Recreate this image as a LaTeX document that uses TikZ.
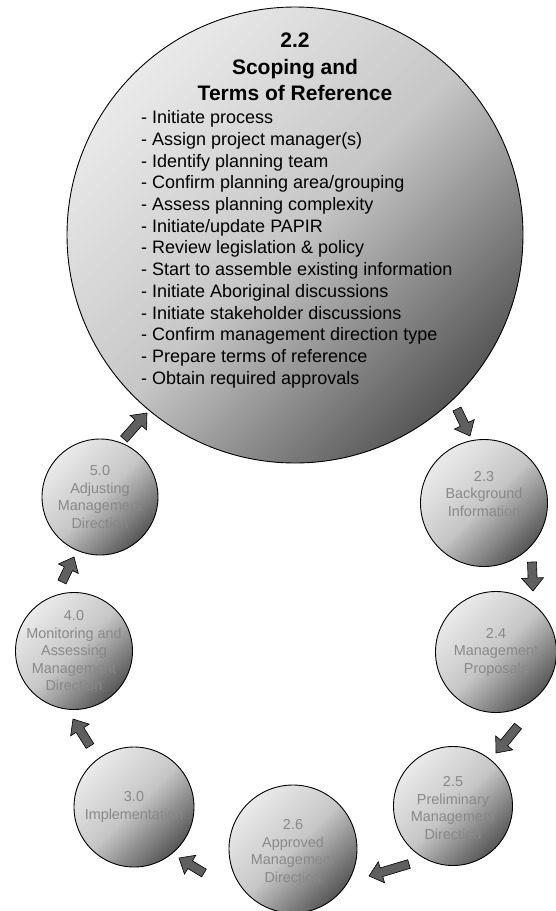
\documentclass[tikz,border=0pt]{standalone}
\usepackage{fontspec}
\setmainfont{Liberation Sans}
\usetikzlibrary{calc}
\definecolor{arrfill}{RGB}{95,95,95}
\definecolor{txtgray}{RGB}{136,136,136}
\definecolor{shlight}{RGB}{234,234,234}
\definecolor{shmid}{RGB}{198,198,198}
\definecolor{shdark}{RGB}{86,86,86}
\tikzset{
  circ/.style={circle, draw=black, line width=0.9pt, inner sep=0pt,
    top color=shlight, bottom color=shdark, middle color=shmid, shading angle=45},
  lbl/.style={align=center, text=txtgray, font=\fontsize{14.4}{17.5}\selectfont, inner sep=0pt},
  ttl/.style={align=center, text=black, font=\fontsize{21}{26.2}\selectfont\bfseries, inner sep=0pt},
  lst/.style={align=left, text=black, font=\fontsize{18}{21.7}\selectfont, inner sep=0pt},
  blk/.style={fill=arrfill, draw=black, line width=0.6pt, line join=miter},
}
\newcommand{\blkarrow}[2]{%
  \coordinate (q) at ($(#2)!13pt!(#1)$);
  \filldraw[blk] ($(#1)!4.5pt!90:(#2)$) -- ($(q)!4.5pt!90:(#2)$) -- ($(q)!11pt!90:(#2)$)
    -- (#2) -- ($(q)!11pt!-90:(#2)$) -- ($(q)!4.5pt!-90:(#2)$) -- ($(#1)!4.5pt!-90:(#2)$) -- cycle;
}
\begin{document}
\begin{tikzpicture}[x=1pt,y=-1pt]
\useasboundingbox (0,0) rectangle (556,911);
% big circle
\node[circ, minimum size=456pt] (c22) at (295,235) {};
\node[ttl, anchor=north] (t22) at (295,33) {2.2\\Scoping and\\Terms of Reference};
\node[lst, anchor=north west] (l22) at (141,110.5) {- Initiate process\\
- Assign project manager(s)\\
- Identify planning team\\
- Confirm planning area/grouping\\
- Assess planning complexity\\
- Initiate/update PAPIR\\
- Review legislation \& policy\\
- Start to assemble existing information\\
- Initiate Aboriginal discussions\\
- Initiate stakeholder discussions\\
- Confirm management direction type\\
- Prepare terms of reference\\
- Obtain required approvals};
% small circles
\node[circ, minimum size=127pt] (c23) at (484,503) {};
\node[lbl] (t23) at ([yshift=9pt]c23.center) {2.3\\Background\\Information};
\node[circ, minimum size=121pt] (c24) at (496,652) {};
\node[lbl] (t24) at (c24.center) {2.4\\Management\\Proposals};
\node[circ, minimum size=119pt] (c25) at (453,806) {};
\node[lbl] (t25) at ([yshift=-2pt]c25.center) {2.5\\Preliminary\\Management\\Direction};
\node[circ, minimum size=128pt] (c26) at (293,849) {};
\node[lbl] (t26) at ([yshift=-2pt]c26.center) {2.6\\Approved\\Management\\Direction};
\node[circ, minimum size=120pt] (c30) at (134,807) {};
\node[lbl] (t30) at (c30.center) {3.0\\Implementation};
\node[circ, minimum size=117pt] (c40) at (74,651) {};
\node[lbl] (t40) at (c40.center) {4.0\\Monitoring and\\Assessing\\Management\\Direction};
\node[circ, minimum size=116pt] (c50) at (100,497) {};
\node[lbl] (t50) at (c50.center) {5.0\\Adjusting\\Management\\Direction};
% arrow end points
\coordinate (a1t) at (457,409); \coordinate (a1h) at (470,436);
\coordinate (a2t) at (532,562); \coordinate (a2h) at (533,591);
\coordinate (a3t) at (518,726); \coordinate (a3h) at (496,753);
\coordinate (a4t) at (409,864); \coordinate (a4h) at (369,876);
\coordinate (a5t) at (204,873); \coordinate (a5h) at (179,858);
\coordinate (a6t) at (90,746);  \coordinate (a6h) at (73,719);
\coordinate (a7t) at (62,582);  \coordinate (a7h) at (74,557);
\coordinate (a8t) at (124,439); \coordinate (a8h) at (147,413);
\blkarrow{a1t}{a1h}
\blkarrow{a2t}{a2h}
\blkarrow{a3t}{a3h}
\blkarrow{a4t}{a4h}
\blkarrow{a5t}{a5h}
\blkarrow{a6t}{a6h}
\blkarrow{a7t}{a7h}
\blkarrow{a8t}{a8h}
\end{tikzpicture}
\end{document}
